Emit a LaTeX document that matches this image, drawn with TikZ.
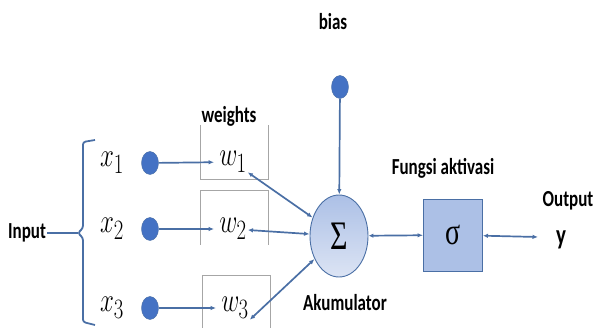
\documentclass[tikz,border=0pt]{standalone}
\usepackage{graphicx}
\usepackage{fontspec}
\setmainfont{Carlito}
\newfontfamily\grk{Liberation Serif}
\usepackage{tikz}
\usetikzlibrary{arrows.meta,positioning,shapes.geometric}

\definecolor{lineblue}{RGB}{74,111,165}
\definecolor{dotblue}{RGB}{68,114,196}
\definecolor{fillblue}{RGB}{172,192,230}
\definecolor{paleblue}{RGB}{220,228,244}
\newcommand{\tall}[1]{\scalebox{1}[1.35]{#1}}

\begin{document}
\begin{tikzpicture}[x=1pt, y=-1pt,
lbl/.style={font=\fontsize{17}{19}\selectfont\bfseries, inner sep=1pt},
var/.style={font=\fontsize{28}{30}\selectfont, inner sep=1pt},
dot/.style={ellipse, draw=lineblue, fill=dotblue, minimum width=17pt, minimum height=23pt, inner sep=0pt},
wbox/.style={draw=black!35, line width=0.8pt},
arr/.style={{Latex[length=5pt,width=4.5pt]}-{Latex[length=5.5pt,width=4.5pt]}, draw=lineblue, line width=1.7pt},
arrs/.style={-{Latex[length=5.5pt,width=4.5pt]}, draw=lineblue, line width=1.7pt}
]
\useasboundingbox (0,0) rectangle (597,328);

% inputs
\node[lbl] (inp) at (27,233) {\tall{Input}};
\coordinate (brtip) at (78,233);
\draw[lineblue, line width=1.8pt, rounded corners=2.5pt]
  (95,140) -- (83,142) -- (83,228) -- (brtip) -- (83,238) -- (83,322) -- (95,325);
\draw[lineblue, line width=1.8pt] (inp) -- (brtip);

\node[var] (x1) at (112,163) {\tall{$x_1$}};
\node[var] (x2) at (112,229) {\tall{$x_2$}};
\node[var] (x3) at (112,308) {\tall{$x_3$}};
\node[dot] (d1) at (150,163) {};
\node[dot] (d2) at (150,229) {};
\node[dot] (d3) at (150,308) {};

% weights
\draw[wbox] (200,125) -- (200,179) -- (268,179) -- (268,125);
\draw[wbox] (200,245) -- (200,190) -- (268,190) -- (268,245);
\draw[wbox] (202,330) -- (202,275) -- (270,275) -- (270,330);
\node[lbl] (wts) at (229,116) {\tall{weights}};
\node[var] (w1) at (233,162) {\tall{$w_1$}};
\node[var] (w2) at (233,229) {\tall{$w_2$}};
\node[var] (w3) at (235,308) {\tall{$w_3$}};

\draw[arrs, shorten >=4pt] (d1) -- (w1);
\draw[arrs, shorten >=4pt] (d2) -- (w2);
\draw[arrs, shorten >=4pt] (d3) -- (w3);

% accumulator
\node[ellipse, draw=lineblue, line width=0.9pt, top color=fillblue, bottom color=paleblue,
  minimum width=58pt, minimum height=82pt] (sum) at (339,236) {\tall{\grk\fontsize{30}{32}\selectfont Σ}};
\node[lbl] (akum) at (345,303) {\tall{Akumulator}};
\node[dot] (bd) at (340,87) {};
\node[lbl] (bias) at (333,22) {\tall{bias}};

\draw[arr] (w1) -- (sum);
\draw[arr] (w2) -- (sum);
\draw[arr] (w3.south east) -- (sum);
\draw[arrs] (bd) -- (sum);

% activation
\node[draw=lineblue, line width=0.9pt, fill=fillblue, minimum width=59pt, minimum height=72pt]
  (act) at (453,235) {\tall{\grk\fontsize{28}{30}\selectfont σ}};
\node[lbl] (fung) at (443,168) {\tall{Fungsi aktivasi}};
\draw[arr] (sum) -- (act);

% output
\coordinate (oend) at (538,237);
\node[lbl] (outp) at (568,201) {\tall{Output}};
\node[lbl, font=\fontsize{21}{23}\selectfont\bfseries] (y) at (561,240) {\tall{y}};
\draw[arr] (act) -- (oend);
\end{tikzpicture}
\end{document}
